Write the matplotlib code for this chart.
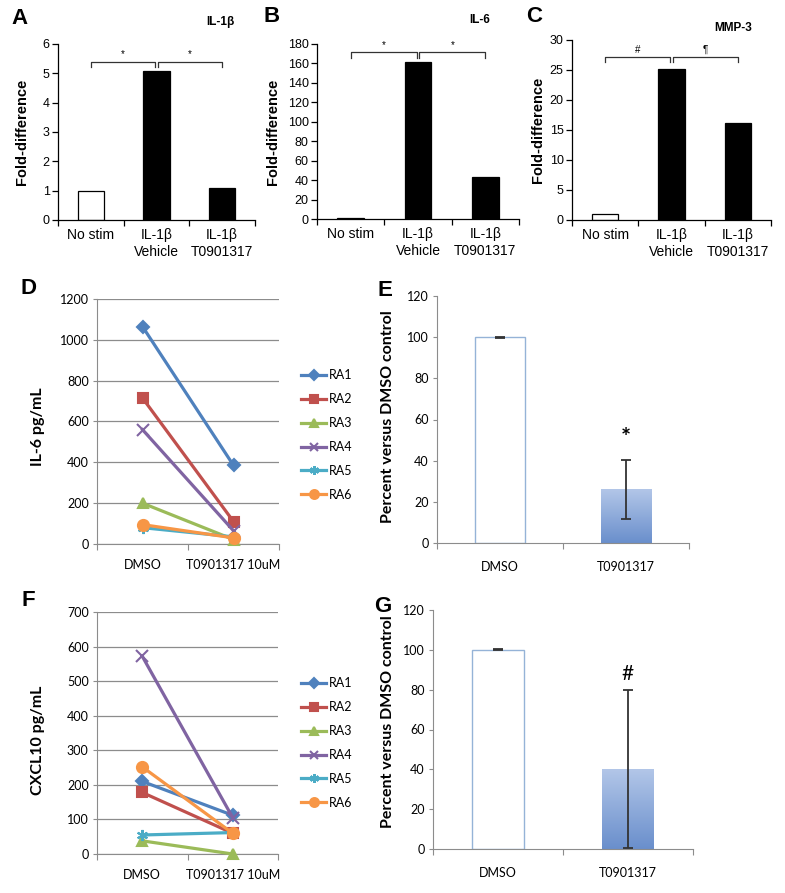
import numpy as np
import matplotlib
matplotlib.use("Agg")
import matplotlib.pyplot as plt
from matplotlib.colors import LinearSegmentedColormap

W, H = 785, 893

# ---- data ----
fold_labels = ["No stim", "IL-1β\nVehicle", "IL-1β\nT0901317"]
il1b_fold = [1.0, 5.07, 1.08]
il6_fold = [1.5, 162, 43]
mmp3_fold = [1.0, 25.2, 16.1]

donors = ["RA1", "RA2", "RA3", "RA4", "RA5", "RA6"]
conc_labels = ["DMSO", "T0901317 10uM"]
il6_dmso = [1065, 715, 200, 560, 80, 95]
il6_t09 = [385, 110, 22, 65, 35, 30]
cxcl10_dmso = [210, 178, 38, 572, 55, 252]
cxcl10_t09 = [112, 60, 0, 105, 62, 60]

pct_labels = ["DMSO", "T0901317"]
il6_pct = [100, 26]
il6_pct_lo = [0.3, 14.5]
il6_pct_hi = [0.3, 14.5]
cxcl10_pct = [100, 40]
cxcl10_pct_lo = [0.3, 39.5]
cxcl10_pct_hi = [0.3, 40]

excel = ["#4F81BD", "#C0504D", "#9BBB59", "#8064A2", "#4BACC6", "#F79646"]
marks = ["D", "s", "^", "x", (6, 2, 0), "o"]
msizes = [6.5, 7.5, 7.5, 8, 8, 8]

ARIAL = "Liberation Sans"
CALIBRI = "Lato"

fig = plt.figure(figsize=(W / 100, H / 100), dpi=100)


def px_axes(left, top, right, bottom):
    return fig.add_axes([left / W, 1 - bottom / H, (right - left) / W, (bottom - top) / H])


def px_text(x, y, s, **kw):
    fig.text(x / W, 1 - y / H, s, ha="center", va="center", **kw)


def fold_panel(box, vals, ymax, ystep, bracket, marks_txt, title, title_xy, ylab_x):
    ax = px_axes(*box)
    x = np.arange(len(vals))
    ax.bar(x, vals, width=0.4, color=["white", "black", "black"],
           edgecolor="black", linewidth=0.9)
    ax.set_xlim(-0.5, 2.5)
    ax.set_ylim(0, ymax)
    ax.set_yticks(np.arange(0, ymax + ystep / 2, ystep))
    ax.set_xticks([-0.5, 0.5, 1.5, 2.5])
    ax.set_xticklabels([])
    ax.set_xticks(x, minor=True)
    ax.set_xticklabels(fold_labels, minor=True, fontsize=10, family=ARIAL)
    ax.tick_params(axis="x", which="minor", length=0, pad=6)
    ax.tick_params(axis="x", which="major", length=4, width=0.9)
    ax.tick_params(axis="y", length=4, width=0.9, labelsize=9, pad=2)
    for lab in ax.get_yticklabels():
        lab.set_family(ARIAL)
    for s in ["top", "right"]:
        ax.spines[s].set_visible(False)
    for s in ["left", "bottom"]:
        ax.spines[s].set_linewidth(0.9)
    top, low = bracket
    for (x0, x1), m in zip([(0, 0.98), (1.02, 2)], marks_txt):
        ax.plot([x0, x0, x1, x1], [low, top, top, low], color="#333333", lw=0.9)
        ax.text((x0 + x1) / 2, top + ymax * 0.012, m, ha="center", va="bottom",
                fontsize=7, family=ARIAL)
    px_text(title_xy[0], title_xy[1], title, fontsize=8.5, fontweight="bold", family=ARIAL)
    px_text(ylab_x, (box[1] + box[3]) / 2, "Fold-difference", rotation=90,
            fontsize=10.5, fontweight="bold", family=ARIAL)
    return ax


fold_panel((58, 44, 255, 220), il1b_fold, 6, 1, (5.4, 5.2), ["*", "*"],
           "IL-1β", (220, 22), 22)
fold_panel((317, 44, 519, 219), il6_fold, 180, 20, (172, 166), ["*", "*"],
           "IL-6", (480, 20), 273)
fold_panel((572, 40, 771, 220), mmp3_fold, 30, 5, (27.2, 26.3), ["#", "¶"],
           "MMP-3", (733, 28), 538)

GRAY = "#8c8c8c"


def line_panel(box, dmso, t09, ymax, ystep, ylabel, ylab_xy, leg_y):
    ax = px_axes(*box)
    for i, name in enumerate(donors):
        ax.plot([0, 1], [dmso[i], t09[i]], color=excel[i], lw=2.3, marker=marks[i],
                ms=msizes[i], mec=excel[i], mfc=excel[i], mew=1.5, label=name,
                clip_on=False, zorder=3 + i)
    ax.set_xlim(-0.5, 1.5)
    ax.set_ylim(0, ymax)
    ax.set_yticks(np.arange(0, ymax + ystep / 2, ystep))
    ax.yaxis.grid(True, color=GRAY, lw=0.9)
    ax.set_axisbelow(True)
    ax.set_xticks([-0.5, 0.5, 1.5])
    ax.set_xticklabels([])
    ax.set_xticks([0, 1], minor=True)
    ax.set_xticklabels(conc_labels, minor=True, fontsize=9, family=CALIBRI)
    ax.tick_params(axis="x", which="minor", length=0, pad=11)
    ax.tick_params(axis="x", which="major", length=4, color=GRAY)
    ax.tick_params(axis="y", length=3, color=GRAY, labelsize=9, pad=3)
    for lab in ax.get_yticklabels():
        lab.set_family(CALIBRI)
    for s in ["top", "right"]:
        ax.spines[s].set_visible(False)
    for s in ["left", "bottom"]:
        ax.spines[s].set_color(GRAY)
    px_text(ylab_xy[0], ylab_xy[1], ylabel, rotation=90, fontsize=11.5,
            fontweight="bold", family=CALIBRI)
    ax.legend(loc="center left", bbox_to_anchor=(296 / W, 1 - leg_y / H),
              bbox_transform=fig.transFigure, frameon=False, handlelength=2.0,
              labelspacing=0.95, handletextpad=0.2, borderaxespad=0, markerscale=0.8,
              prop={"family": CALIBRI, "size": 9})
    return ax


line_panel((97, 299, 279, 544), il6_dmso, il6_t09, 1200, 200, "IL-6 pg/mL", (38, 427), 435)
line_panel((97, 612, 278, 854), cxcl10_dmso, cxcl10_t09, 700, 100, "CXCL10 pg/mL", (38, 740), 743)

grad = LinearSegmentedColormap.from_list("g", ["#6a8fcc", "#b2c6e8"])


def pct_panel(box, vals, lo, hi, mark, mark_y, ylab_xy):
    ax = px_axes(*box)
    x = np.arange(len(vals))
    bars = ax.bar(x, vals, width=0.4, color=["white", "none"],
                  edgecolor=["#95b3d7", "none"], linewidth=1.0, zorder=2)
    b = bars[1]
    img = ax.imshow(np.linspace(0, 1, 100).reshape(-1, 1), cmap=grad, aspect="auto",
                    origin="lower", extent=[b.get_x(), b.get_x() + b.get_width(), 0, b.get_height()],
                    zorder=1.5)
    img.set_clip_path(b)
    ax.errorbar(x, vals, yerr=[lo, hi], fmt="none", ecolor="#333333", elinewidth=1.3,
                capsize=3.5, capthick=1.3, zorder=4)
    ax.set_xlim(-0.5, 1.5)
    ax.set_ylim(0, 120)
    ax.set_yticks(np.arange(0, 121, 20))
    ax.set_xticks([-0.5, 0.5, 1.5])
    ax.set_xticklabels([])
    ax.set_xticks(x, minor=True)
    ax.set_xticklabels(pct_labels, minor=True, fontsize=9, family=CALIBRI)
    ax.tick_params(axis="x", which="minor", length=0, pad=13)
    ax.tick_params(axis="x", which="major", length=4, color=GRAY)
    ax.tick_params(axis="y", length=3, color=GRAY, labelsize=9, pad=3)
    for lab in ax.get_yticklabels():
        lab.set_family(CALIBRI)
    for s in ["top", "right"]:
        ax.spines[s].set_visible(False)
    for s in ["left", "bottom"]:
        ax.spines[s].set_color(GRAY)
    ax.text(1, mark_y, mark, ha="center", va="center",
            fontsize=17 if mark == "*" else 15,
            fontweight="bold" if mark == "*" else "normal", family=CALIBRI)
    px_text(ylab_xy[0], ylab_xy[1], "Percent versus DMSO control", rotation=90,
            fontsize=11.5, fontweight="bold", family=CALIBRI)
    return ax


pct_panel((437, 296, 689, 543), il6_pct, il6_pct_lo, il6_pct_hi, "*", 51, (388, 417))
pct_panel((433, 610, 693, 849), cxcl10_pct, cxcl10_pct_lo, cxcl10_pct_hi, "#", 88, (388, 722))

for letter, (lx, ly) in {"A": (20, 19), "B": (272, 16), "C": (534, 16),
                         "D": (28, 288), "E": (385, 290),
                         "F": (28, 600), "G": (383, 606)}.items():
    px_text(lx, ly, letter, fontsize=16, fontweight="bold", family=ARIAL)

fig.savefig("out.png", dpi=100)
